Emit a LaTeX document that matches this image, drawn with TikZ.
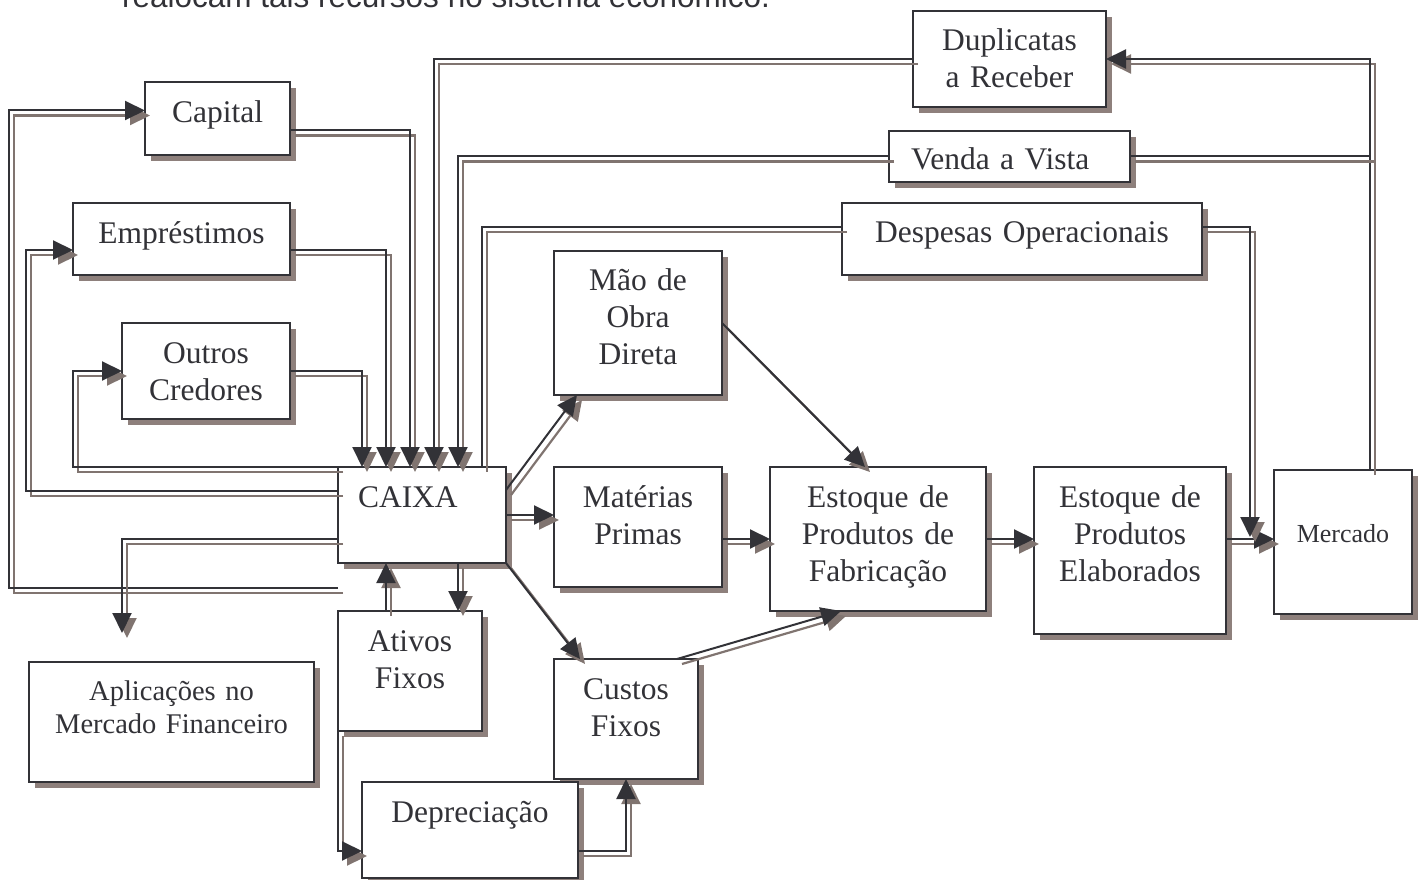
\documentclass[tikz,border=0pt]{standalone}
\usepackage{fontspec}
\setmainfont{Liberation Serif}
\setsansfont{Liberation Sans}
\usetikzlibrary{arrows.meta,shadows}
\definecolor{ink}{RGB}{50,50,55}
\definecolor{shade}{RGB}{142,128,124}
\definecolor{shadeline}{RGB}{128,116,112}
\tikzset{
	box/.style n args={3}{draw=ink,line width=2pt,fill=white,inner sep=0pt,outer sep=0pt,anchor=base,align=center,text=ink,
		font=\fontsize{31.5}{37}\selectfont,text width=#1pt,text height=#2pt,text depth=#3pt,
		drop shadow={shadow xshift=6pt,shadow yshift=-6pt,fill=shade,opacity=1}},
	ln/.style={draw=ink,line width=2pt,preaction={draw=shadeline,line width=2.2pt,transform canvas={xshift=5pt,yshift=-5pt}}},
	ar/.style={ln,-{Triangle[length=20pt,width=19pt]}}
}
\begin{document}
\begin{tikzpicture}[x=1pt,y=-1pt]
	\useasboundingbox (0,0) rectangle (1422,880);
	\node [font=\sffamily\fontsize{31.5}{37}\selectfont,text=ink,anchor=base west,inner sep=0pt] (intro) at (122,8) {realocam tais recursos no sistema econômico.};

	% caixas
	\node [box={145}{41}{32}] (capital) at (217.5,123) {Capital};
	\node [box={217}{40}{32}] (empr) at (181.5,243) {Empréstimos};
	\node [box={168}{40}{56}] (outros) at (206,363) {Outros\\Credores};
	\node [box={168}{40}{56},align=left] (caixa) at (422,507) {\hspace*{20pt}CAIXA};
	\node [box={285}{38}{82},font=\fontsize{28.5}{33.5}\selectfont] (aplic) at (171.5,700) {Aplicações no\\Mercado Financeiro};
	\node [box={144}{40}{80}] (ativos) at (410,651) {Ativos\\Fixos};
	\node [box={144}{40}{80}] (custos) at (626,699) {Custos\\Fixos};
	\node [box={216}{40}{56}] (deprec) at (470,822) {Depreciação};
	\node [box={168}{39}{105}] (mao) at (638,290) {Mão de\\Obra\\Direta};
	\node [box={168}{40}{80}] (mat) at (638,507) {Matérias\\Primas};
	\node [box={216}{40}{104}] (fabr) at (878,507) {Estoque de\\Produtos de\\Fabricação};
	\node [box={192}{40}{127}] (elab) at (1130,507) {Estoque de\\Produtos\\Elaborados};
	\node [box={138}{72}{72},font=\fontsize{26}{30}\selectfont] (merc) at (1343,542) {Mercado};
	\node [box={360}{39}{33}] (desp) at (1022,242) {Despesas Operacionais};
	\node [box={241}{39}{12},align=left] (venda) at (1009.5,170) {\hspace*{22pt}Venda a Vista};
	\node [box={193}{40}{56}] (dupl) at (1009.5,51) {Duplicatas\\a Receber};
	\coordinate (mtop) at ([xshift=96pt]merc.north west);

	% entradas no caixa
	\draw [ar] (outros.east) -| ([xshift=24pt]caixa.north west);
	\draw [ar] ([yshift=-11pt]empr.east) -| ([xshift=48pt]caixa.north west);
	\draw [ar] ([yshift=-12pt]capital.east) -| ([xshift=72pt]caixa.north west);
	\draw [ar] (dupl.west) -| ([xshift=96pt]caixa.north west);
	\draw [ar] (venda.west) -| ([xshift=120pt]caixa.north west);
	\draw [ln] ([yshift=12pt]desp.west) -| ([xshift=144pt]caixa.north west);

	% saidas do caixa
	\draw [ar] (caixa.north west) -- ++(-265,0) |- (outros.west);
	\draw [ar] ([yshift=-24pt]caixa.north west) -- ++(-312,0) |- ([yshift=-11pt]empr.west);
	\draw [ar] ([yshift=-25pt]caixa.south west) -- ++(-329,0) |- ([yshift=8pt]capital.west);
	\draw [ar] ([yshift=-72pt]caixa.north west) -| ([xshift=93pt,yshift=29pt]aplic.north west);
	\draw [ar] ([xshift=48pt]ativos.north west) -- ([xshift=48pt]caixa.south west);
	\draw [ar] ([xshift=120pt]caixa.south west) -- ([xshift=120pt]ativos.north west);
	\draw [ar] (ativos.south west) |- ([yshift=-21pt]deprec.west);
	\draw [ar] ([yshift=-21pt]deprec.east) -| (custos.south);
	\draw [ar] ([yshift=-23pt]caixa.north east) -- ([xshift=23pt]mao.south west);
	\draw [ar] (caixa.east) -- (caixa.east -| mat.west);
	\draw [ar] (caixa.south east) -- ([xshift=26pt]custos.north west);

	% producao
	\draw [ar] (mao.east) -- ([xshift=95pt]fabr.north west);
	\draw [ar] (fabr.west -| mat.east) -- (fabr.west);
	\draw [ar] ([xshift=-21pt]custos.north east) -- ([xshift=71pt]fabr.south west);
	\draw [ar] (fabr.east) -- (fabr.east -| elab.west);
	\draw [ar] (fabr.east -| elab.east) -- (fabr.east -| merc.west);
	\draw [ar] ([yshift=12pt]desp.east) -| ([xshift=-24pt,yshift=5pt]merc.west);

	% mercado
	\draw [ar] (mtop) |- (dupl.east);
	\draw [ln] (venda.east) -- (venda.east -| mtop);
\end{tikzpicture}
\end{document}
